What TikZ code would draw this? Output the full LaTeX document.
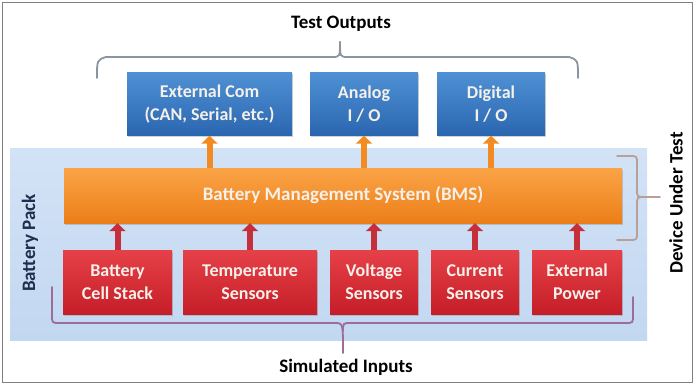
\documentclass[tikz,border=0pt]{standalone}
\usepackage{fontspec}
\setmainfont{Carlito}
\usetikzlibrary{arrows.meta,shadows}
\definecolor{bgblue}{HTML}{D3E3F6}
\definecolor{bgblue2}{HTML}{C2D7F1}
\definecolor{blueA}{HTML}{4F91D4}
\definecolor{blueB}{HTML}{2A66B0}
\definecolor{orangeA}{HTML}{FBA447}
\definecolor{orangeB}{HTML}{EC7E18}
\definecolor{redA}{HTML}{E64048}
\definecolor{redB}{HTML}{C51E28}
\definecolor{redarr}{HTML}{C62E3A}
\definecolor{orarr}{HTML}{F28C22}
\definecolor{boxtext}{HTML}{F6F0EA}
\definecolor{bracegray}{HTML}{8A959F}
\definecolor{bracebrown}{HTML}{B8A096}
\definecolor{bracemauve}{HTML}{9C6C9A}
\definecolor{navy}{HTML}{1E2F4E}
\begin{document}
\begin{tikzpicture}[x=1pt,y=-1pt,
  boxbase/.style={rectangle, inner sep=0pt, align=center, text=boxtext,
     font=\fontsize{18}{23}\selectfont\bfseries,
     drop shadow={opacity=0.35, shadow xshift=1pt, shadow yshift=-1.5pt}},
  bluebox/.style={boxbase, top color=blueA, bottom color=blueB, minimum height=63pt},
  orangebox/.style={boxbase, top color=orangeA, bottom color=orangeB, minimum height=55pt},
  redbox/.style={boxbase, top color=redA, bottom color=redB, minimum height=64pt},
  rarrow/.style={draw=redarr, line width=6pt, -{Triangle[width=16pt,length=8pt]}},
  oarrow/.style={draw=orarr, line width=6pt, -{Triangle[width=16pt,length=8pt]}},
  brace/.style={line width=1.8pt, line cap=round},
  title/.style={font=\fontsize{19}{22}\selectfont\bfseries, text=black},
]
\useasboundingbox (0,0) rectangle (695,385);
\fill[white] (0,0) rectangle (695,385);
\draw[gray, line width=1.2pt] (2.5,2.5) rectangle (692.5,382.5);

% battery pack background
\shade[top color=bgblue, bottom color=bgblue2] (10,148) rectangle (647,340);

% top boxes
\node[bluebox, minimum width=165pt] (ext) at (209.5,104) {External Com\\(CAN, Serial, etc.)};
\node[bluebox, minimum width=108pt] (analog) at (364,104) {Analog\\I / O};
\node[bluebox, minimum width=108pt] (digital) at (491,104) {Digital\\I / O};

% BMS
\node[orangebox, minimum width=558pt, font=\fontsize{19}{23}\selectfont\bfseries] (bms) at (343,195.5) {Battery Management System (BMS)};

% red boxes
\node[redbox, minimum width=109pt] (cell) at (117.5,282) {Battery\\Cell Stack};
\node[redbox, minimum width=134pt] (temp) at (250,282) {Temperature\\Sensors};
\node[redbox, minimum width=88pt] (volt) at (374,282) {Voltage\\Sensors};
\node[redbox, minimum width=88pt] (curr) at (475,282) {Current\\Sensors};
\node[redbox, minimum width=90pt] (pwr) at (577,282) {External\\Power};

% arrows
\foreach \n in {cell,temp,volt,curr,pwr}
  \draw[rarrow] (\n.north) -- (\n.north |- bms.south);
\foreach \n in {ext,analog,digital}
  \draw[oarrow] (\n.south |- bms.north) -- (\n.south);

% top brace
\draw[brace, draw=bracegray] (97,78) .. controls (97,60) .. (106,57) -- (332,57)
   .. controls (340,57) .. (340,42);
\draw[brace, draw=bracegray] (340,42) .. controls (340,57) .. (348,57) -- (569,57)
   .. controls (578,60) .. (578,78);
% right brace
\draw[brace, draw=bracebrown] (617,156) -- (629,156) .. controls (637,156) .. (637,164)
   -- (637,189) .. controls (637,197) .. (645,197) -- (660,197);
\draw[brace, draw=bracebrown] (645,197) .. controls (637,197) .. (637,205)
   -- (637,232) .. controls (637,240) .. (629,240) -- (617,240);
% bottom brace
\draw[brace, draw=bracemauve] (52,287) -- (52,315) .. controls (52,323) .. (60,323)
   -- (335,323) .. controls (343,323) .. (343,353);
\draw[brace, draw=bracemauve] (343,331) .. controls (343,323) .. (351,323)
   -- (625,323) .. controls (633,323) .. (633,315) -- (633,297);

% labels
\node[title] (tout) at (341,24) {Test Outputs};
\node[title] (sin) at (346,367) {Simulated Inputs};
\node[title, text=navy, rotate=90] (bpack) at (30,243) {Battery Pack};
\node[title, rotate=90] (dut) at (676,203) {Device Under Test};
\end{tikzpicture}
\end{document}
